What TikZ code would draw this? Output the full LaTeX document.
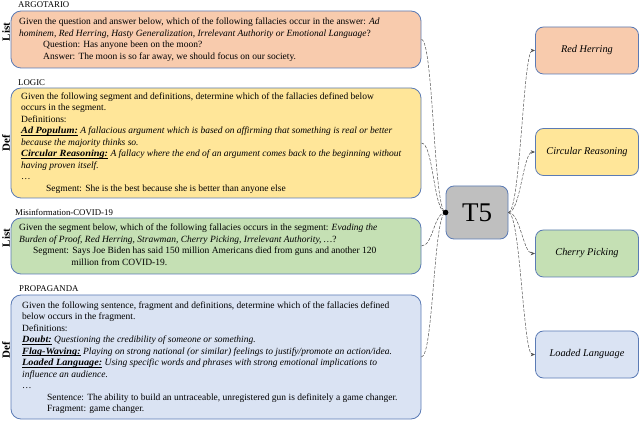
\documentclass[tikz,border=0pt]{standalone}
\usepackage{fontspec}
\setmainfont{Liberation Serif}[BoldItalicFeatures={FakeStretch=1.08}]
\usetikzlibrary{arrows.meta}
\definecolor{peach}{HTML}{F8CBAD}
\definecolor{yel}{HTML}{FFE699}
\definecolor{grn}{HTML}{C5E0B4}
\definecolor{blu}{HTML}{DAE3F3}
\definecolor{gry}{HTML}{BFBFBF}
\definecolor{bord}{HTML}{5B7BB5}
\definecolor{conncol}{HTML}{505050}
\newsavebox\dfnbox
\newcommand\dfn[1]{\sbox\dfnbox{\textbf{\textit{#1}}}\rlap{\rule[-1.6pt]{\wd\dfnbox}{0.55pt}}\usebox\dfnbox}
\begin{document}
\begin{tikzpicture}[x=1pt,y=-1pt,
  box/.style={draw=bord, line width=0.8pt, rounded corners=10pt, inner sep=0pt},
  bigbox/.style={box, minimum width=410pt},
  txt/.style={anchor=west, align=left, inner sep=0pt, font=\fontsize{9.5}{11.5}\selectfont},
  sect/.style={anchor=west, inner sep=0pt, font=\fontsize{8.8}{10}\selectfont},
  side/.style={rotate=90, inner sep=0pt, font=\fontsize{11}{12}\selectfont\bfseries},
  outbox/.style={box, rounded corners=8pt, minimum width=103pt, minimum height=47pt, font=\fontsize{10.3}{12}\selectfont\itshape},
  conn/.style={draw=conncol, line width=0.5pt, dash pattern=on 3pt off 1.5pt},
]
\useasboundingbox (0,0) rectangle (640,438);

% section labels
\node[sect] (s1) at (18,5) {ARGOTARIO};
\node[sect] (s2) at (18,83) {LOGIC};
\node[sect] (s3) at (15,212) {Misinformation-COVID-19};
\node[sect] (s4) at (19,289) {PROPAGANDA};

% side labels
\node[side] (l1) at (6,32) {List};
\node[side] (l2) at (6,143) {Def};
\node[side] (l3) at (6,238) {List};
\node[side] (l4) at (6,350) {Def};

% left boxes
\node[bigbox, fill=peach, minimum height=57pt] (b1) at (216,39.5) {};
\node[bigbox, fill=yel, minimum height=110pt] (b2) at (216,143) {};
\node[bigbox, fill=grn, minimum height=56pt] (b3) at (216,246) {};
\node[bigbox, fill=blu, minimum height=124pt] (b4) at (216,357) {};

\node[txt] (t1) at (19,39.5) {Given the question and answer below, which of the following fallacies occur in the answer: \textit{Ad}\\
\textit{hominem, Red Herring, Hasty Generalization, Irrelevant Authority or Emotional Language}?\\
\hspace*{24pt}Question: Has anyone been on the moon?\\
\hspace*{24pt}Answer: The moon is so far away, we should focus on our society.};

\node[txt] (t2) at (21,143) {Given the following segment and definitions, determine which of the fallacies defined below\\
occurs in the segment.\\
Definitions:\\
\dfn{Ad Populum:} \textit{A fallacious argument which is based on affirming that something is real or better}\\
\textit{because the majority thinks so.}\\
\dfn{Circular Reasoning:} \textit{A fallacy where the end of an argument comes back to the beginning without}\\
\textit{having proven itself.}\\
\ldots\\
\hspace*{25pt}Segment: She is the best because she is better than anyone else};

\node[txt] (t3) at (19,244.5) {Given the segment below, which of the following fallacies occurs in the segment: \textit{Evading the}\\
\textit{Burden of Proof, Red Herring, Strawman, Cherry Picking, Irrelevant Authority, \ldots}?\\
\hspace*{14pt}Segment: Says Joe Biden has said 150 million Americans died from guns and another 120\\
\hspace*{14pt}\hphantom{Segment:\ }million from COVID-19.};

\node[txt] (t4) at (22,357.5) {Given the following sentence, fragment and definitions, determine which of the fallacies defined\\
below occurs in the fragment.\\
Definitions:\\
\dfn{Doubt:} \textit{Questioning the credibility of someone or something.}\\
\dfn{Flag-Waving:} \textit{Playing on strong national (or similar) feelings to justify/promote an action/idea.}\\
\dfn{Loaded Language:} \textit{Using specific words and phrases with strong emotional implications to}\\
\textit{influence an audience.}\\
\ldots\\
\hspace*{25pt}Sentence: The ability to build an untraceable, unregistered gun is definitely a game changer.\\
\hspace*{25pt}Fragment: game changer.};

% T5
\node[box, rounded corners=8pt, fill=gry, minimum width=62pt, minimum height=53pt, font=\fontsize{27}{30}\selectfont] (t5) at (477,212.5) {T5};

% outputs
\node[outbox, fill=peach] (r1) at (587,50.5) {Red Herring};
\node[outbox, fill=yel] (r2) at (587,152) {Circular Reasoning};
\node[outbox, fill=grn] (r3) at (587,253.5) {Cherry Picking};
\node[outbox, fill=blu] (r4) at (587,354.5) {Loaded Language};

% connectors in
\foreach \b in {b1,b2,b3,b4}
  \draw[conn] (\b.east) to[out=0,in=180,out distance=12pt,in distance=12pt] (t5.west);
\fill[black] (t5.west) circle (2.8pt);

% connectors out
\foreach \r in {r1,r2,r3,r4}
  \draw[conn,-{Stealth[length=4.5pt,width=3.5pt]}] (t5.east) to[out=0,in=180,out distance=12pt,in distance=12pt] (\r.west);
\end{tikzpicture}
\end{document}
